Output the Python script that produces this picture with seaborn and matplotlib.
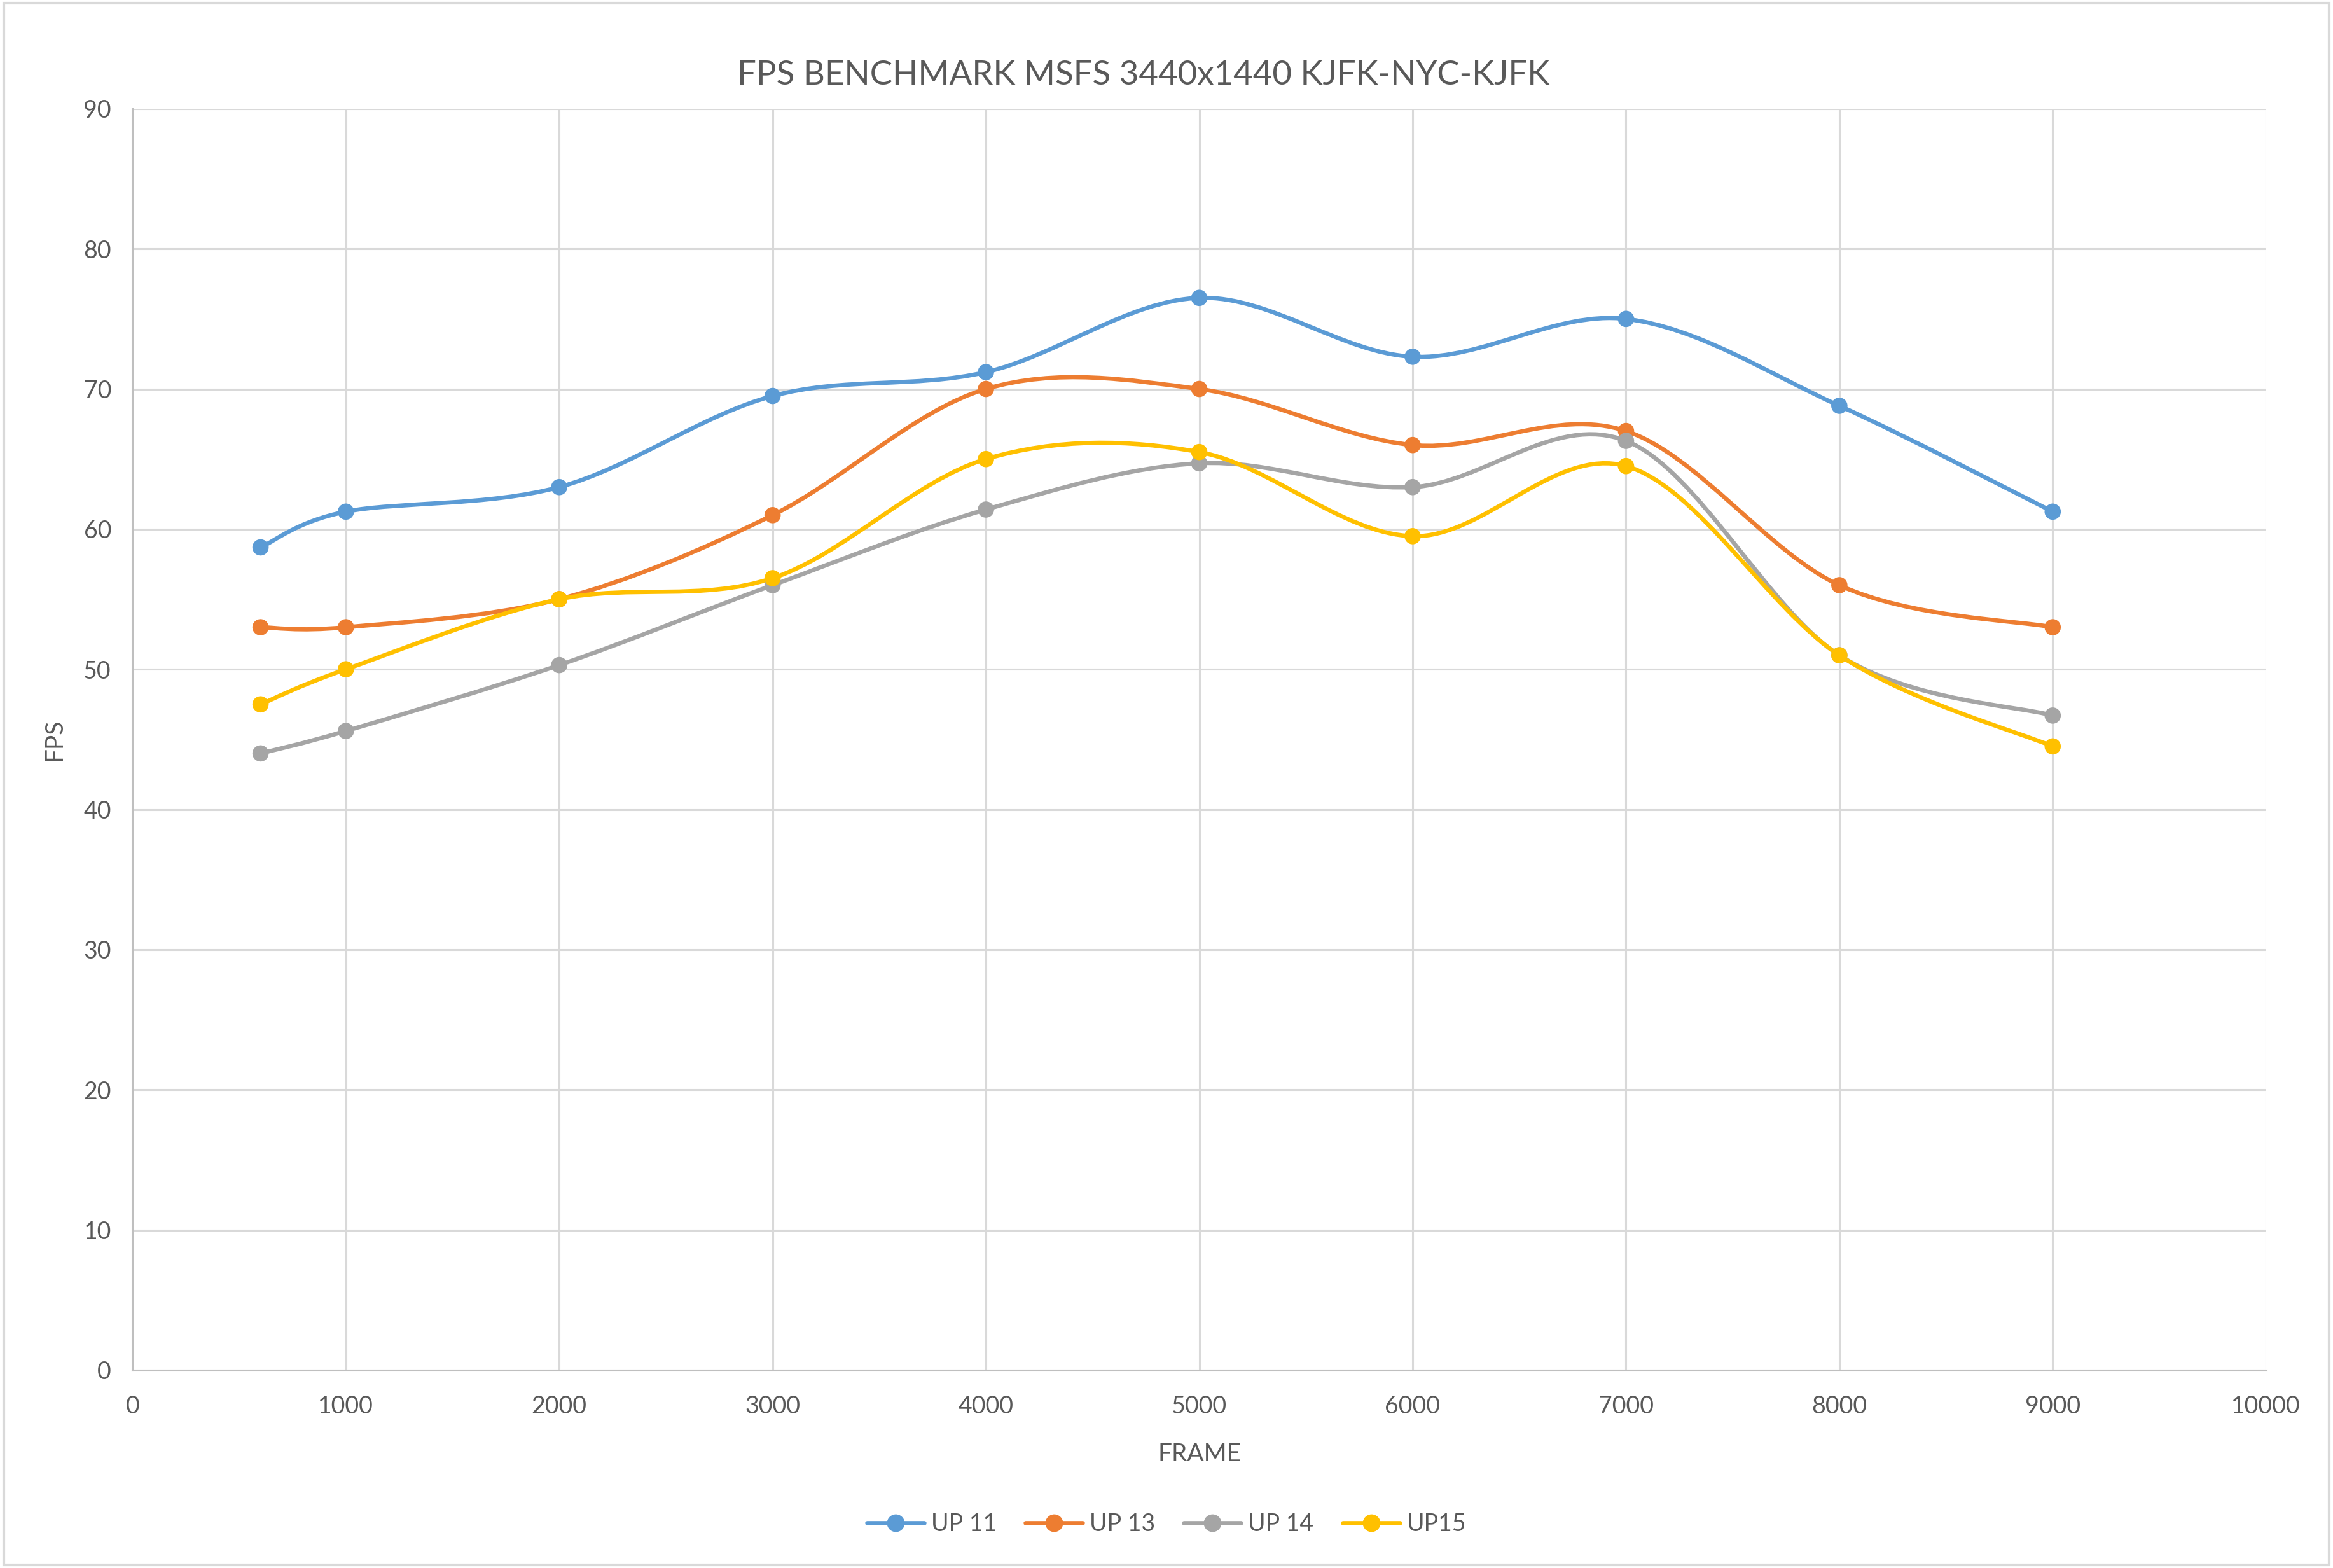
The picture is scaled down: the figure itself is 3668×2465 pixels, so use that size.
import numpy as np
import pandas as pd
import matplotlib
matplotlib.use("Agg")
import matplotlib.pyplot as plt
import seaborn as sns
from matplotlib.path import Path
from matplotlib.patches import PathPatch, Rectangle
from matplotlib.lines import Line2D

# ----------------------------
# Data
# ----------------------------
frames = [600, 1000, 2000, 3000, 4000, 5000, 6000, 7000, 8000, 9000]
up11 = [58.7, 61.25, 63.0, 69.5, 71.2, 76.5, 72.3, 75.0, 68.8, 61.25]
up13 = [53.0, 53.0, 55.0, 61.0, 70.0, 70.0, 66.0, 67.0, 56.0, 53.0]
up14 = [44.0, 45.6, 50.3, 56.0, 61.4, 64.7, 63.0, 66.3, 51.0, 46.7]
up15 = [47.5, 50.0, 55.0, 56.5, 65.0, 65.5, 59.5, 64.5, 51.0, 44.5]

series_names = ["UP 11", "UP 13", "UP 14", "UP15"]
series_values = [up11, up13, up14, up15]
colors = ["#5B9BD5", "#ED7D31", "#A5A5A5", "#FFC000"]

TEXT = "#595959"
GRID = "#D9D9D9"

df = pd.DataFrame({
    "FRAME": frames * len(series_names),
    "FPS": sum(series_values, []),
    "Series": np.repeat(series_names, len(frames)),
})

# ----------------------------
# Style
# ----------------------------
sns.set_style("white")
plt.rcParams["font.family"] = ["Lato", "DejaVu Sans"]


def smooth_path(x, y):
    # Excel-like smoothed line: cubic Bezier through the points
    p = np.column_stack([x, y]).astype(float)
    ext = np.vstack([p[0], p, p[-1]])
    verts = [p[0]]
    codes = [Path.MOVETO]
    for i in range(len(p) - 1):
        p0, p1, p2, p3 = ext[i], ext[i + 1], ext[i + 2], ext[i + 3]
        c1 = p1 + (p2 - p0) / 6.0
        c2 = p2 - (p3 - p1) / 6.0
        verts += [c1, c2, p2]
        codes += [Path.CURVE4] * 3
    return Path(verts, codes)


fig = plt.figure(figsize=(18.34, 12.325), dpi=200)
ax = fig.add_axes([0.0568, 0.1262, 0.9145, 0.8045])

for name, color in zip(series_names, colors):
    sub = df[df["Series"] == name]
    ax.add_patch(PathPatch(smooth_path(sub["FRAME"], sub["FPS"]), facecolor="none",
                           edgecolor=color, lw=2.4, capstyle="round", zorder=3))

sns.scatterplot(data=df, x="FRAME", y="FPS", hue="Series", palette=colors,
                hue_order=series_names, s=85, edgecolor="none", legend=False,
                zorder=4, ax=ax)

ax.set_xlim(0, 10000)
ax.set_ylim(0, 90)
ax.set_xticks(range(0, 10001, 1000))
ax.set_yticks(range(0, 91, 10))
ax.grid(True, color=GRID, lw=1.1)
ax.set_axisbelow(True)
for side in ["top", "right"]:
    ax.spines[side].set_visible(False)
for side in ["left", "bottom"]:
    ax.spines[side].set_color("#BFBFBF")
    ax.spines[side].set_linewidth(1.1)
ax.tick_params(axis="both", length=0, labelsize=13.5, colors=TEXT)
ax.tick_params(axis="x", pad=14)
ax.tick_params(axis="y", pad=12)

fig.text(0.49, 0.952, "FPS BENCHMARK MSFS 3440x1440 KJFK-NYC-KJFK", fontsize=19,
         color=TEXT, ha="center", va="center")
ax.set_xlabel("FRAME", fontsize=14, color=TEXT, labelpad=14)
ax.set_ylabel("FPS", fontsize=14, color=TEXT, labelpad=10)

handles = [Line2D([0], [0], color=c, lw=2.4, marker="o", markersize=9,
                  solid_capstyle="round") for c in colors]
fig.legend(handles, series_names, loc="center", bbox_to_anchor=(0.5, 0.028),
           ncol=4, frameon=False, fontsize=13.5, labelcolor=TEXT,
           handlelength=2.4, handletextpad=0.3, columnspacing=1.2)

fig.add_artist(Rectangle((0.0015, 0.002), 0.997, 0.996, transform=fig.transFigure,
                         fill=False, edgecolor=GRID, lw=1.5))

fig.savefig("out.png", dpi=200)
